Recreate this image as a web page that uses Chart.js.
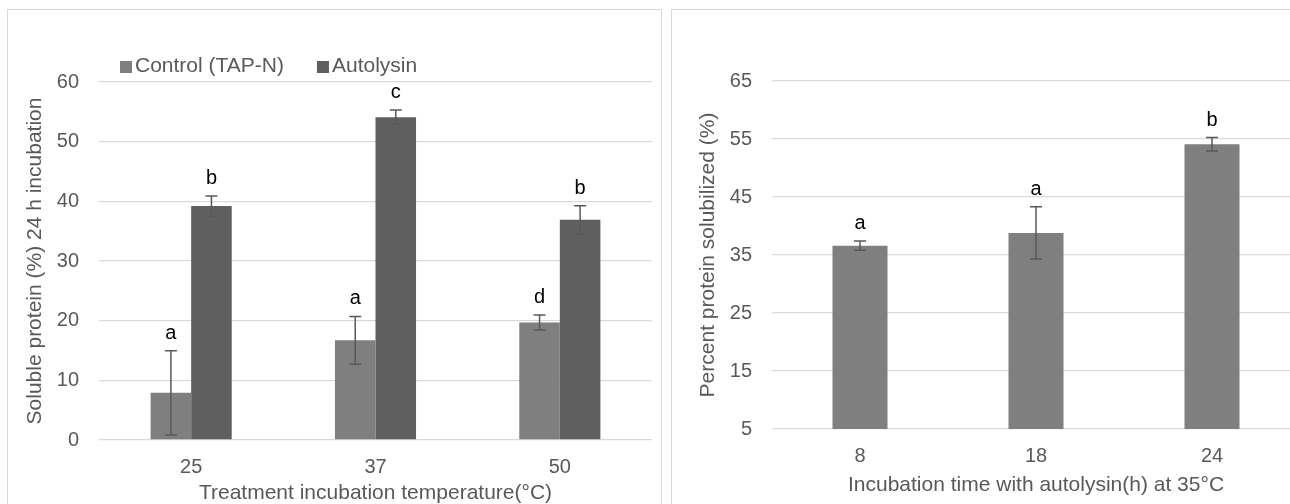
<!DOCTYPE html>
<html>
<head>
<meta charset="utf-8">
<script src="https://cdn.jsdelivr.net/npm/chart.js@4"></script>
<style>
    body { margin: 0; width: 1290px; height: 504px; overflow: hidden; background: #fff; position: relative; }
    .panel { position: absolute; border: 1px solid #d9d9d9; background: #fff; }
    #panelLeft { left: 7px; top: 9px; width: 653px; height: 520px; }
    #panelRight { left: 671px; top: 9px; width: 640px; height: 520px; }
    canvas { display: block; }
</style>
</head>
<body>
<div class="panel" id="panelLeft"><canvas id="graficoTemp" width="653" height="520"></canvas></div>
<div class="panel" id="panelRight"><canvas id="graficoTempo" width="640" height="520"></canvas></div>
<script>
// left chart: soluble protein vs temperature
const temperaturas = ['25', '37', '50'];
const controle = [7.9, 16.7, 19.7];
const controleErro = [7.05, 4.0, 1.25];
const controleLetras = ['a', 'a', 'd'];
const autolisina = [39.2, 54.1, 36.9];
const autolisinaErro = [1.7, 1.2, 2.35];
const autolisinaLetras = ['b', 'c', 'b'];
const ticksTemp = [0, 10, 20, 30, 40, 50, 60];

// right chart: protein solubilized vs incubation time
const tempos = ['8', '18', '24'];
const solubilizado = [36.6, 38.8, 54.1];
const solubilizadoErro = [0.8, 4.5, 1.15];
const solubilizadoLetras = ['a', 'a', 'b'];
const ticksTempo = [5, 15, 25, 35, 45, 55, 65];

const FONTE = '"Liberation Sans", Arial, sans-serif';
const CINZA_TEXTO = '#595959';
const CINZA_GRADE = '#d9d9d9';

const barrasErro = {
    id: 'barrasErro',
    afterDatasetsDraw(chart) {
        const ctx = chart.ctx;
        const y = chart.scales.y;
        chart.data.datasets.forEach((ds, i) => {
            const meta = chart.getDatasetMeta(i);
            meta.data.forEach((bar, j) => {
                const topo = y.getPixelForValue(ds.data[j] + ds.erro[j]);
                const base = y.getPixelForValue(ds.data[j] - ds.erro[j]);
                ctx.save();
                ctx.strokeStyle = CINZA_TEXTO;
                ctx.lineWidth = 1.5;
                ctx.beginPath();
                ctx.moveTo(bar.x, topo); ctx.lineTo(bar.x, base);
                ctx.moveTo(bar.x - 6, topo); ctx.lineTo(bar.x + 6, topo);
                ctx.moveTo(bar.x - 6, base); ctx.lineTo(bar.x + 6, base);
                ctx.stroke();
                ctx.fillStyle = '#000';
                ctx.font = '20px ' + FONTE;
                ctx.textAlign = 'center';
                ctx.textBaseline = 'alphabetic';
                ctx.fillText(ds.letras[j], bar.x, topo - 12);
                ctx.restore();
            });
        });
    }
};

const legendaQuadrados = {
    id: 'legendaQuadrados',
    afterDraw(chart) {
        const ctx = chart.ctx;
        let x = chart.chartArea.left + 21;
        ctx.save();
        ctx.font = '21px ' + FONTE;
        ctx.textBaseline = 'middle';
        ctx.textAlign = 'left';
        chart.data.datasets.forEach(ds => {
            ctx.fillStyle = ds.backgroundColor;
            ctx.fillRect(x, 51, 12, 12);
            ctx.fillStyle = CINZA_TEXTO;
            ctx.fillText(ds.label, x + 15, 56);
            x += 15 + ctx.measureText(ds.label).width + 33;
        });
        ctx.restore();
    }
};

function opcoesEscalas(cfg) {
    return {
        x: {
            grid: { display: false },
            border: { display: false },
            afterFit: s => { s.height = cfg.alturaX; },
            ticks: { color: CINZA_TEXTO, padding: 7, font: { family: FONTE, size: 20 } },
            title: {
                display: true,
                text: cfg.tituloX,
                color: CINZA_TEXTO,
                padding: { top: 0, bottom: cfg.padTituloX },
                font: { family: FONTE, size: 21 }
            }
        },
        y: {
            min: cfg.ticks[0],
            max: cfg.ticks[cfg.ticks.length - 1],
            afterBuildTicks: s => { s.ticks = cfg.ticks.map(v => ({ value: v })); },
            afterFit: s => { s.width = cfg.larguraY; },
            grid: { color: CINZA_GRADE, lineWidth: 1.3, drawTicks: false },
            border: { display: false },
            ticks: { color: CINZA_TEXTO, padding: 20, font: { family: FONTE, size: 20 } },
            title: {
                display: true,
                text: cfg.tituloY,
                color: CINZA_TEXTO,
                padding: { top: cfg.padTituloY, bottom: 0 },
                font: { family: FONTE, size: 21 }
            }
        }
    };
}

new Chart(document.getElementById('graficoTemp').getContext('2d'), {
    type: 'bar',
    data: {
        labels: temperaturas,
        datasets: [
            {
                label: 'Control (TAP-N)',
                data: controle,
                erro: controleErro,
                letras: controleLetras,
                backgroundColor: '#7f7f7f',
                categoryPercentage: 0.44,
                barPercentage: 1.0
            },
            {
                label: 'Autolysin',
                data: autolisina,
                erro: autolisinaErro,
                letras: autolisinaLetras,
                backgroundColor: '#5f5f5f',
                categoryPercentage: 0.44,
                barPercentage: 1.0
            }
        ]
    },
    options: {
        responsive: false,
        animation: false,
        layout: { padding: { left: 0, right: 9, top: 72, bottom: 0 } },
        plugins: { legend: { display: false }, tooltip: { enabled: false } },
        scales: opcoesEscalas({
            ticks: ticksTemp,
            tituloX: 'Treatment incubation temperature(°C)',
            tituloY: 'Soluble protein (%) 24 h incubation',
            alturaX: 90,
            larguraY: 91,
            padTituloX: 24,
            padTituloY: 15
        })
    },
    plugins: [barrasErro, legendaQuadrados]
});

new Chart(document.getElementById('graficoTempo').getContext('2d'), {
    type: 'bar',
    data: {
        labels: tempos,
        datasets: [
            {
                label: 'Percent protein solubilized',
                data: solubilizado,
                erro: solubilizadoErro,
                letras: solubilizadoLetras,
                backgroundColor: '#7f7f7f',
                categoryPercentage: 0.3125,
                barPercentage: 1.0
            }
        ]
    },
    options: {
        responsive: false,
        animation: false,
        layout: { padding: { left: 0, right: 12, top: 71, bottom: 0 } },
        plugins: { legend: { display: false }, tooltip: { enabled: false } },
        scales: opcoesEscalas({
            ticks: ticksTempo,
            tituloX: 'Incubation time with autolysin(h) at 35°C',
            tituloY: 'Percent protein solubilized (%)',
            alturaX: 101,
            larguraY: 100,
            padTituloX: 32,
            padTituloY: 24
        })
    },
    plugins: [barrasErro]
});
</script>
</body>
</html>
